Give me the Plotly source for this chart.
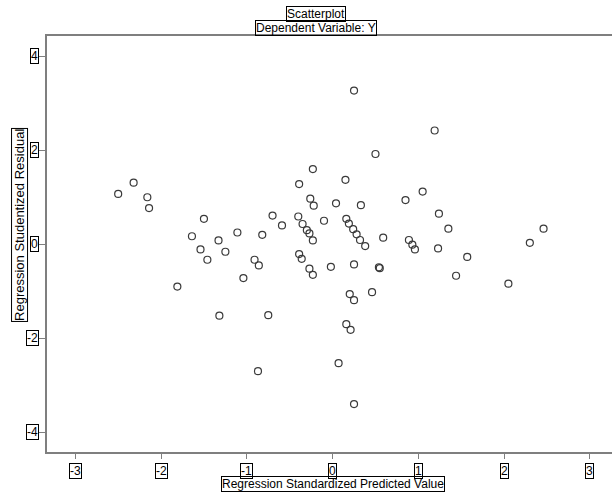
import plotly.graph_objects as go

# Regression Standardized Predicted Value (x) and Studentized Residual (y)
pred = [-2.50, -2.32, -2.16, -2.14, -1.81, -1.64, -1.50, -1.54, -1.46, -1.33,
        -1.25, -1.32, -1.11, -1.04, -0.91, -0.86, -0.82, -0.87, -0.75, -0.70,
        -0.59, -0.39, -0.23, -0.26, -0.22, -0.40, -0.35, -0.30, -0.27, -0.23,
        -0.10, -0.39, -0.36, -0.27, -0.23, -0.02, 0.04, 0.15, 0.25, 0.50,
        0.33, 0.16, 0.19, 0.24, 0.28, 0.32, 0.38, 0.25, 0.20, 0.25,
        0.46, 0.16, 0.21, 0.07, 0.25, 0.54, 0.55, 0.59, 0.85, 1.05,
        1.19, 1.24, 0.89, 0.93, 0.96, 1.23, 1.35, 1.44, 1.57, 2.05,
        2.30, 2.46]
resid = [1.07, 1.31, 1.00, 0.77, -0.90, 0.17, 0.54, -0.11, -0.33, 0.08,
         -0.16, -1.52, 0.25, -0.72, -0.33, -0.45, 0.20, -2.70, -1.51, 0.61,
         0.40, 1.28, 1.60, 0.97, 0.82, 0.59, 0.43, 0.30, 0.23, 0.08,
         0.50, -0.21, -0.31, -0.52, -0.65, -0.48, 0.87, 1.37, 3.27, 1.92,
         0.83, 0.54, 0.44, 0.32, 0.21, 0.09, -0.04, -0.43, -1.06, -1.19,
         -1.02, -1.70, -1.82, -2.53, -3.40, -0.49, -0.51, 0.14, 0.94, 1.12,
         2.42, 0.65, 0.09, -0.01, -0.11, -0.09, 0.33, -0.67, -0.27, -0.84,
         0.03, 0.33]

x_ticks = [-3, -2, -1, 0, 1, 2, 3]
y_ticks = [-4, -2, 0, 2, 4]

title_lines = ["Scatterplot", "Dependent Variable: Y"]
x_title = "Regression Standardized Predicted Value"
y_title = "Regression Studentized Residual"

FONT = "Liberation Sans, Arial, sans-serif"
AXIS_COLOR = "#7f7f7f"
plot_left, plot_right = 47, 612
title_x = (316 - plot_left) / (plot_right - plot_left)


def box(size):
    return dict(bordercolor="black", borderwidth=1, borderpad=0,
                font=dict(family=FONT, size=size, color="black"), showarrow=False)


fig = go.Figure(go.Scatter(
    x=pred, y=resid, mode="markers",
    marker=dict(symbol="circle-open", size=7, color="#3a3a3a",
                line=dict(width=1.2, color="#3a3a3a")),
    hoverinfo="skip", showlegend=False,
))

annotations = []
for v in x_ticks:
    annotations.append(dict(text=str(v), x=v, xref="x", y=0, yref="paper",
                            yanchor="top", yshift=-11, **box(12)))
for v in y_ticks:
    annotations.append(dict(text=str(v), y=v, yref="y", x=0, xref="paper",
                            xanchor="right", xshift=-8, **box(12)))
annotations.append(dict(text=title_lines[0], x=title_x, xref="paper",
                        y=1, yref="paper", yanchor="bottom", yshift=14, **box(12)))
annotations.append(dict(text=title_lines[1], x=title_x, xref="paper",
                        y=1, yref="paper", yanchor="bottom", yshift=0, **box(12)))
annotations.append(dict(text=x_title, x=0, xref="x", y=0, yref="paper",
                        yanchor="top", yshift=-24, **box(12)))
annotations.append(dict(text=y_title, x=0, xref="paper", xanchor="center",
                        xshift=-27, y=0.41, yref="y", textangle=-90, **box(13)))

fig.update_layout(
    width=612, height=498,
    margin=dict(l=47, r=0, t=36, b=46),
    paper_bgcolor="white", plot_bgcolor="white",
    annotations=annotations,
    xaxis=dict(range=[-3.33, 3.258], tickvals=x_ticks, showticklabels=False,
               ticks="outside", ticklen=5, tickcolor=AXIS_COLOR, tickwidth=1,
               showline=True, linecolor=AXIS_COLOR, linewidth=1.5, mirror=True,
               showgrid=False, zeroline=False, fixedrange=True),
    yaxis=dict(range=[-4.42, 4.43], tickvals=y_ticks, showticklabels=False,
               ticks="outside", ticklen=6, tickcolor=AXIS_COLOR, tickwidth=1,
               showline=True, linecolor=AXIS_COLOR, linewidth=1.5,
               showgrid=False, zeroline=False, fixedrange=True),
)

fig.write_html("out.html", config={"displayModeBar": False},
               post_script="document.body.style.margin='0';document.body.style.overflow='hidden';")
